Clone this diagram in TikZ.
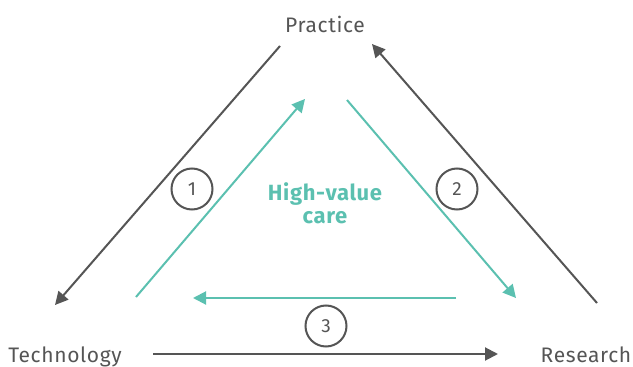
\documentclass[tikz,border=0pt]{standalone}
\usepackage{fontspec}
\setmainfont{Fira Sans}
\usetikzlibrary{arrows.meta}
\definecolor{darkgrey}{HTML}{555555}
\definecolor{teal}{HTML}{5BC0B0}
\tikzset{
  label/.style={font=\fontsize{21}{24}\selectfont\addfontfeatures{LetterSpace=3}, text=darkgrey, inner sep=0pt, anchor=base},
  greyarrow/.style={draw=darkgrey, line width=2pt, -{Triangle[length=13pt,width=13pt]}},
  tealarrow/.style={draw=teal, line width=2pt, -{Triangle[length=13pt,width=13pt]}},
  stepnum/.style={circle, draw=darkgrey, line width=2pt, minimum size=41pt, inner sep=0pt,
    text=darkgrey, font=\fontsize{19}{22}\selectfont},
  centretext/.style={font=\bfseries\fontsize{22}{22.5}\selectfont\addfontfeatures{LetterSpace=3}, text=teal, align=center, anchor=base}
}
\begin{document}
\begin{tikzpicture}[x=1pt,y=-1pt]
\useasboundingbox (0,0) rectangle (633,367);
% corner labels
\node[label] (practice) at (325,32) {Practice};
\node[label] (technology) at (65,362) {Technology};
\node[label] (research) at (586,362) {Research};
% outer cycle end points
\coordinate (a1s) at (280,46);
\coordinate (a1e) at (55,305);
\coordinate (a2s) at (597,303);
\coordinate (a2e) at (372,44);
\coordinate (a3s) at (153,354);
\coordinate (a3e) at (498,354);
% inner cycle end points
\coordinate (b1s) at (136,297);
\coordinate (b1e) at (305,99);
\coordinate (b2s) at (347,100);
\coordinate (b2e) at (516,298);
\coordinate (b3s) at (456,298);
\coordinate (b3e) at (193,298);
% outer arrows
\draw[greyarrow] (a1s) -- (a1e);
\draw[greyarrow] (a2s) -- (a2e);
\draw[greyarrow] (a3s) -- (a3e);
% inner arrows
\draw[tealarrow] (b1s) -- (b1e);
\draw[tealarrow] (b2s) -- (b2e);
\draw[tealarrow] (b3s) -- (b3e);
% step numbers
\node[stepnum] (n1) at (192,189) {1};
\node[stepnum] (n2) at (457,189) {2};
\node[stepnum] (n3) at (326,326) {3};
% centre text
\node[centretext] (care) at (325,223) {High-value\\care};
\end{tikzpicture}
\end{document}
